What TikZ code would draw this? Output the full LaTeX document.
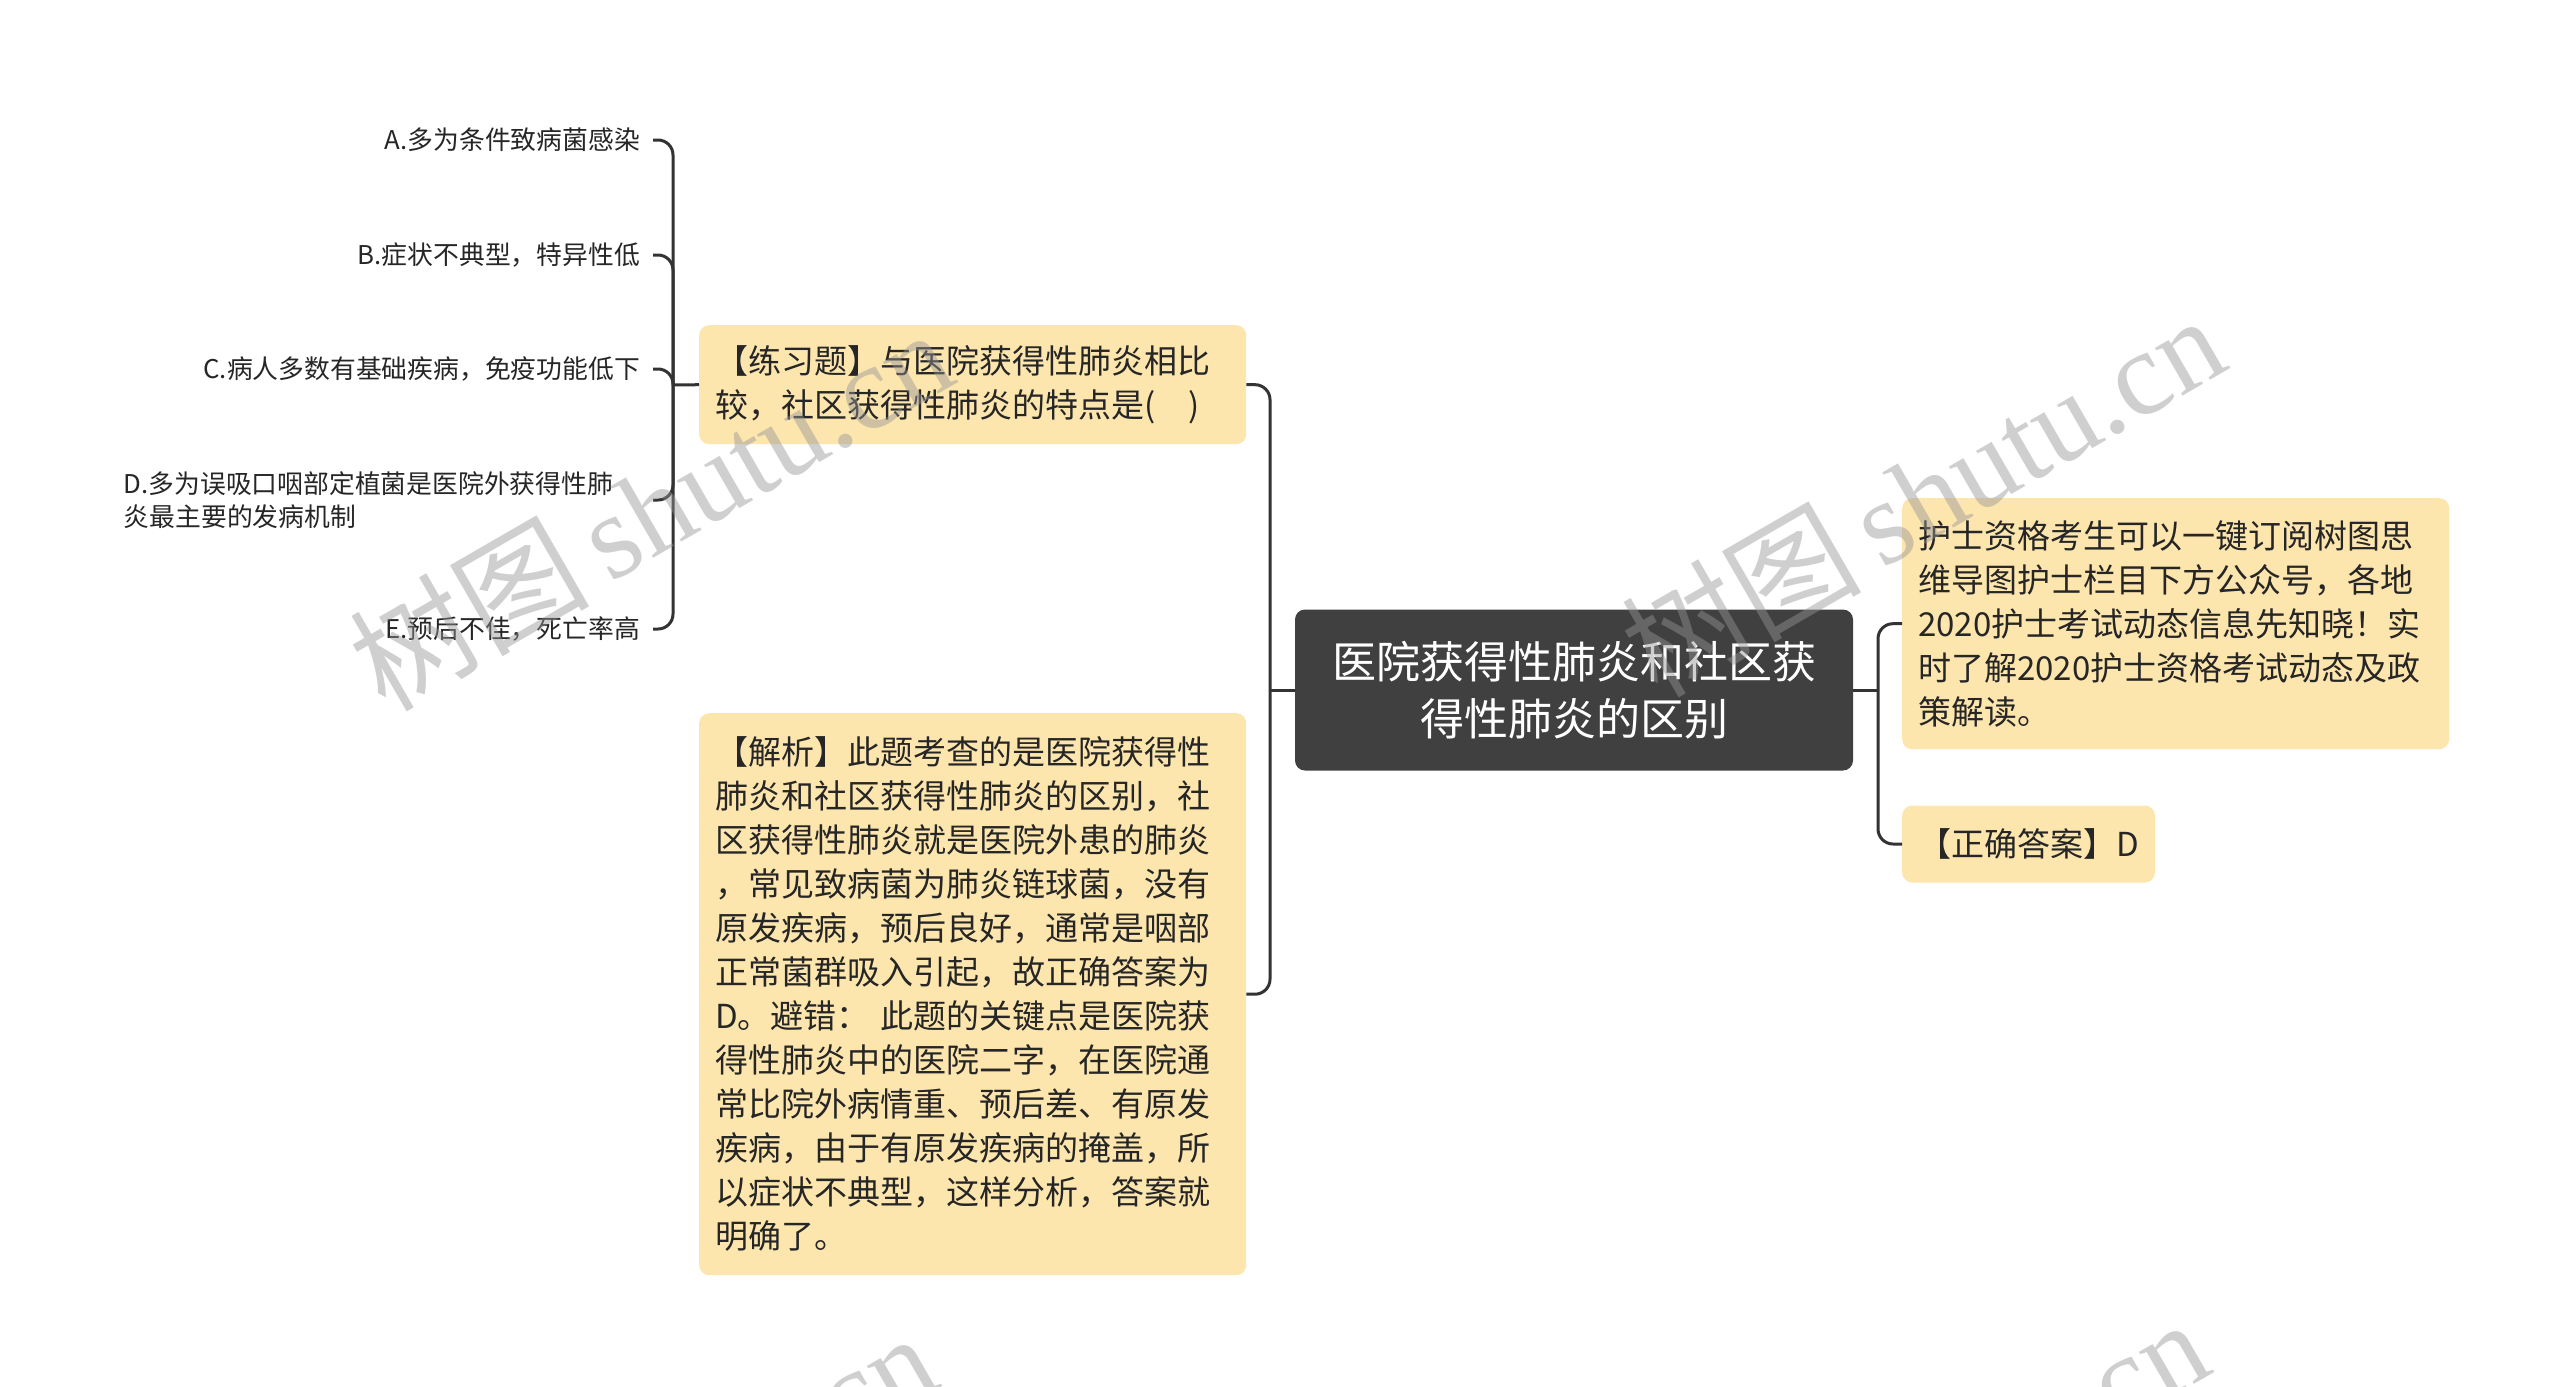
\documentclass[tikz,border=0pt]{standalone}
\usepackage{fontspec}
\setmainfont{Noto Sans CJK SC}
\newfontfamily\wmlatin{Liberation Serif}
\newfontfamily\wmcjk{Noto Sans CJK SC}
\definecolor{nodefill}{RGB}{253,230,174}
\definecolor{darknode}{RGB}{64,64,64}
\definecolor{linecol}{RGB}{51,51,51}
\definecolor{txt}{RGB}{38,38,38}
\definecolor{wmcol}{RGB}{150,150,150}
\tikzset{
  conn/.style={draw=linecol, line width=3pt, rounded corners=15pt},
  leaf/.style={font=\fontsize{25.8}{33}\selectfont, text=txt, inner xsep=13pt, inner ysep=0pt, anchor=east},
  box/.style={fill=nodefill, rounded corners=10pt, text=txt, font=\fontsize{33}{44}\selectfont,
    inner xsep=16pt, inner ysep=0pt, align=left},
  centre/.style={fill=darknode, rounded corners=10pt, text=white, font=\fontsize{44}{57}\selectfont,
    align=center, text width=520pt, minimum width=558pt, minimum height=161pt, inner sep=0pt},
  wmark/.style={text=wmcol, opacity=0.45, rotate=30, font=\fontsize{120}{120}\selectfont, inner sep=0pt}
}
\begin{document}
\begin{tikzpicture}[x=1pt,y=-1pt]
\useasboundingbox (0,0) rectangle (2560,1387);
\fill[white] (0,0) rectangle (2560,1387);

% central
\node[centre] (central) at (1574,690) {医院获得性肺炎和社区获\\得性肺炎的区别};

% right side
\node[box, text width=515pt, minimum height=251pt, anchor=north west] (info) at (1902,498)
  {护士资格考生可以一键订阅树图思\\维导图护士栏目下方公众号，各地\\2020护士考试动态信息先知晓！实\\时了解2020护士资格考试动态及政\\策解读。};
\node[box, minimum height=77pt, anchor=west] (answer) at (1902,844) {【正确答案】D};

% left side
\node[box, text width=515pt, minimum height=119pt, anchor=north west] (question) at (699,325)
  {【练习题】与医院获得性肺炎相比\\较，社区获得性肺炎的特点是(\quad)};
\node[box, text width=515pt, minimum height=562pt, anchor=north west] (analysis) at (699,713)
  {【解析】此题考查的是医院获得性\\肺炎和社区获得性肺炎的区别，社\\区获得性肺炎就是医院外患的肺炎\\，常见致病菌为肺炎链球菌，没有\\原发疾病，预后良好，通常是咽部\\正常菌群吸入引起，故正确答案为\\D。避错：\ 此题的关键点是医院获\\得性肺炎中的医院二字，在医院通\\常比院外病情重、预后差、有原发\\疾病，由于有原发疾病的掩盖，所\\以症状不典型，这样分析，答案就\\明确了。};

% leaves
\node[leaf] (la) at (653,140) {A.多为条件致病菌感染};
\node[leaf] (lb) at (653,255) {B.症状不典型，特异性低};
\node[leaf] (lc) at (653,369) {C.病人多数有基础疾病，免疫功能低下};
\node[leaf, text width=516pt, align=left] (ld) at (653,500) {D.多为误吸口咽部定植菌是医院外获得性肺\\炎最主要的发病机制};
\node[leaf] (le) at (653,629) {E.预后不佳，死亡率高};

% junctions
\coordinate (jr) at (1878,690);
\coordinate (jl) at (1270,690);
\coordinate (jq) at (673,385);

\draw[conn] (central.east) -- (jr);
\draw[conn] (jr) |- (info.west);
\draw[conn] (jr) |- (answer.west);
\draw[conn] (central.west) -- (jl);
\draw[conn] (jl) |- (question.east);
\draw[conn] (jl) |- (analysis.east);
\draw[conn] (question.west) -- (jq);
\draw[conn] (jq) |- (la.east);
\draw[conn] (jq) |- (lb.east);
\draw[conn] (jq) |- (lc.east);
\draw[conn] (jq) |- (ld.east);
\draw[conn] (jq) |- (le.east);

% watermarks
\begin{scope}
\clip (0,0) rectangle (2560,1387);
\node[wmark] (wm1) at (650,508) {{\wmcjk 树图}\,{\wmlatin shutu.cn}};
\node[wmark] (wm2) at (1922,494) {{\wmcjk 树图}\,{\wmlatin shutu.cn}};
\node[wmark] (wm3) at (634,1512) {{\wmcjk 树图}\,{\wmlatin shutu.cn}};
\node[wmark] (wm4) at (1906,1498) {{\wmcjk 树图}\,{\wmlatin shutu.cn}};
\end{scope}
\end{tikzpicture}
\end{document}
